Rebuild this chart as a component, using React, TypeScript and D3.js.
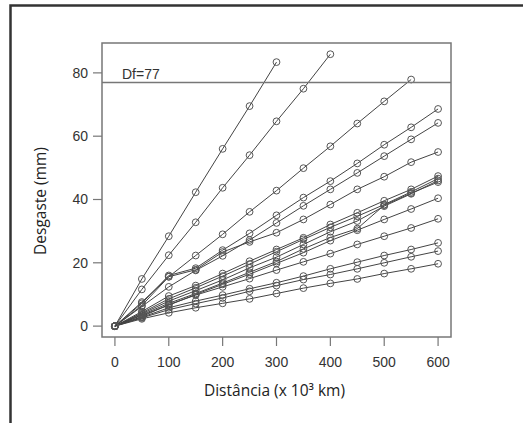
import React from "react";
import * as d3 from "d3";

const distances = [0, 50, 100, 150, 200, 250, 300, 350, 400, 450, 500, 550, 600];

const series: number[][] = [
  [0, 14.9, 28.4, 42.3, 56, 69.5, 83.4],
  [0, 11.6, 22.4, 32.8, 43.7, 54, 64.7, 75, 85.9],
  [0, 7.6, 15.6, 22.3, 29, 36.1, 42.8, 49.9, 56.8, 64, 71, 77.9],
  [0, 7.2, 16, 18.3, 24, 29.3, 35, 40.6, 45.8, 51.4, 57.3, 62.8, 68.6],
  [0, 6.2, 12.4, 17.6, 22.2, 27.2, 32.6, 38, 43.2, 48.4, 53.7, 59, 64.2],
  [0, 6.5, 15.6, 17.8, 23.4, 26.6, 29.5, 33.7, 38.4, 43.2, 47.2, 51.8, 55],
  [0, 4.6, 9.5, 12.8, 16.6, 20.5, 24.2, 27.9, 32.1, 35.8, 39.6, 43.2, 47.4],
  [0, 4.2, 8.6, 12.1, 15.8, 19.6, 23.5, 27.4, 31.2, 34.7, 38.4, 42.4, 46.6],
  [0, 3.9, 7.9, 11.2, 14.6, 18.4, 21.8, 25.8, 29.8, 33.2, 37.9, 41.8, 46],
  [0, 3.6, 7.2, 10.3, 13.6, 17, 20.4, 24.4, 28, 30.8, 38.2, 42, 45.5],
  [0, 3.4, 6.6, 10, 13.2, 16.4, 19.8, 23.2, 27, 30.3, 33.7, 37, 40.4],
  [0, 3, 6.8, 9.8, 12.4, 15, 17.7, 20.3, 22.9, 25.8, 28.4, 31, 33.9],
  [0, 2.8, 5.8, 7.9, 9.8, 11.8, 13.7, 15.8, 18.1, 20.2, 22.3, 24.2, 26.3],
  [0, 2.6, 5.2, 7.1, 8.9, 11, 12.8, 14.7, 16.3, 18.1, 20, 21.9, 23.7],
  [0, 2.3, 4.2, 5.8, 7.2, 8.6, 10.3, 12, 13.5, 14.9, 16.6, 18.1, 19.7],
];

const xTicks = [0, 100, 200, 300, 400, 500, 600];
const yTicks = [0, 20, 40, 60, 80];
const limitValue = 77;
const limitLabel = "Df=77";
const xTitle = "Distância (x 10³ km)";
const yTitle = "Desgaste (mm)";

export default function App() {
  const W = 523;
  const H = 423;
  const box = { left: 102, right: 451, top: 43, bottom: 337 };
  const x = d3.scaleLinear().domain([-24, 624]).range([box.left, box.right]);
  const y = d3.scaleLinear().domain([-3.44, 89.44]).range([box.bottom, box.top]);
  const line = d3
    .line<number>()
    .x((_, i) => x(distances[i]))
    .y((d) => y(d));
  const tickFont = "'Liberation Sans', Arial, sans-serif";
  const titleFont = "'Open Sans', 'Noto Sans', sans-serif";

  return (
    <svg
      width={W}
      height={H}
      style={{ position: "absolute", left: 0, top: 0, background: "#fff" }}
    >
      <rect x={10.5} y={5.5} width={W + 20} height={H + 20} fill="#fff" stroke="#333" strokeWidth={2.5} />
      {series.map((s, k) => (
        <path key={k} d={line(s) || ""} fill="none" stroke="#444" strokeWidth={1} />
      ))}
      {series.map((s, k) =>
        s.map((v, i) => (
          <circle
            key={`${k}-${i}`}
            cx={x(distances[i])}
            cy={y(v)}
            r={3.4}
            fill="none"
            stroke="#555"
            strokeWidth={1}
          />
        ))
      )}
      <line
        x1={box.left}
        x2={box.right}
        y1={y(limitValue)}
        y2={y(limitValue)}
        stroke="#777"
        strokeWidth={1.5}
      />
      <text x={122} y={79} fontFamily={tickFont} fontSize={14} fill="#333">
        {limitLabel}
      </text>
      <rect
        x={box.left}
        y={box.top}
        width={box.right - box.left}
        height={box.bottom - box.top}
        fill="none"
        stroke="#777"
        strokeWidth={1.5}
      />
      {xTicks.map((t) => (
        <g key={t}>
          <line x1={x(t)} x2={x(t)} y1={box.bottom} y2={box.bottom + 9} stroke="#777" strokeWidth={1.2} />
          <text x={x(t)} y={367} textAnchor="middle" fontFamily={tickFont} fontSize={14} fill="#333">
            {t}
          </text>
        </g>
      ))}
      {yTicks.map((t) => (
        <g key={t}>
          <line x1={box.left - 9} x2={box.left} y1={y(t)} y2={y(t)} stroke="#777" strokeWidth={1.2} />
          <text x={88} y={y(t) + 5} textAnchor="end" fontFamily={tickFont} fontSize={14} fill="#333">
            {t}
          </text>
        </g>
      ))}
      <text x={274.5} y={395.5} textAnchor="middle" fontFamily={titleFont} fontSize={15.5} fill="#222">
        {xTitle}
      </text>
      <text
        transform={`translate(45.5,201) rotate(-90)`}
        textAnchor="middle"
        fontFamily={titleFont}
        fontSize={15.5}
        fill="#222"
      >
        {yTitle}
      </text>
    </svg>
  );
}
